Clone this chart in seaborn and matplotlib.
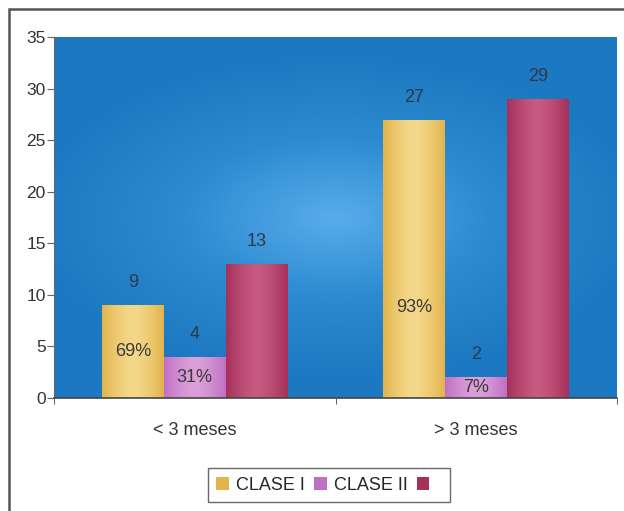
import numpy as np
import pandas as pd
import matplotlib
matplotlib.use("Agg")
import matplotlib.pyplot as plt
import seaborn as sns
from matplotlib.patches import Rectangle

# datos
grupos = ["< 3 meses", "> 3 meses"]
clases = ["CLASE I", "CLASE II", " "]
clase_1 = [9, 27]
clase_2 = [4, 2]
total = [13, 29]
porcentajes_1 = ["69%", "93%"]
porcentajes_2 = ["31%", "7%"]

df = pd.DataFrame({
    "grupo": grupos * 3,
    "clase": [c for c in clases for _ in grupos],
    "valor": clase_1 + clase_2 + total,
})

colores = ["#e2b44c", "#c070c4", "#a6305a"]
centros = ["#f4d88a", "#dca0d8", "#c65a80"]

sns.set_style("white")
plt.rcParams["font.family"] = ["Liberation Sans", "DejaVu Sans"]

fig = plt.figure(figsize=(6.24, 5.11), dpi=100)
ax = fig.add_axes([54 / 624, 1 - 398 / 511, 563 / 624, 361 / 511])

sns.barplot(data=df, x="grupo", y="valor", hue="clase", hue_order=clases,
            palette=colores, saturation=1, width=0.66, linewidth=0,
            ax=ax, legend=True, zorder=2)

# fondo azul con degradado
yy, xx = np.mgrid[-1:1:200j, -1:1:200j]
r = np.sqrt((xx * 0.9) ** 2 + (yy * 1.1) ** 2)
fondo = np.clip(r, 0, 1)
azul = matplotlib.colors.LinearSegmentedColormap.from_list("azul", ["#58aceb", "#2c8ad0", "#1c78c0"])
ax.imshow(fondo, cmap=azul, extent=(-0.5, 1.5, 0, 35), aspect="auto", zorder=0, vmin=0, vmax=1)

# degradado horizontal en cada barra
xg = np.linspace(-1, 1, 100)
grad = np.abs(xg)[None, :] ** 1.5
for i, c in enumerate(ax.containers):
    cm = matplotlib.colors.LinearSegmentedColormap.from_list("b", [centros[i], colores[i]])
    for patch in c:
        x0, w, h = patch.get_x(), patch.get_width(), patch.get_height()
        im = ax.imshow(grad, cmap=cm, extent=(x0, x0 + w, 0, h), aspect="auto", zorder=2.5, vmin=0, vmax=1)
        im.set_clip_path(patch)

ax.set_xlim(-0.5, 1.5)
ax.set_ylim(0, 35)
ax.set_yticks(range(0, 36, 5))
ax.set_xlabel("")
ax.set_ylabel("")

# etiquetas de valor
for c in ax.containers:
    ax.bar_label(c, padding=10, fontsize=13, color="#2e3a48")

# porcentajes dentro de las barras
for c, pcts in zip(ax.containers[:2], [porcentajes_1, porcentajes_2]):
    for bar, p in zip(c, pcts):
        y = min(bar.get_height() / 2, 8.8)
        ax.text(bar.get_x() + bar.get_width() / 2, y, p, ha="center", va="center",
                fontsize=13, color="#3a3a3a", zorder=4)

for s in ["top", "right"]:
    ax.spines[s].set_visible(False)
ax.spines["left"].set_color("#666666")
ax.spines["bottom"].set_color("#444444")
ax.spines["bottom"].set_linewidth(1.2)
ax.tick_params(axis="y", left=True, length=5, color="#666666", labelsize=12.5, labelcolor="#333333", pad=1)
ax.tick_params(axis="x", which="major", length=0, labelsize=13, labelcolor="#333333", pad=17)
ax.set_xticks([-0.5, 0.5, 1.5], minor=True)
ax.tick_params(axis="x", which="minor", bottom=True, length=4, color="#444444")

ax.get_legend().remove()
handles = [Rectangle((0, 0), 1, 1, fc=colores[i], ec="none") for i in range(3)]
fig.legend(handles, clases, loc="center", bbox_to_anchor=(329 / 624, 1 - 485 / 511), ncol=3,
           fontsize=13, frameon=True, fancybox=False, edgecolor="#444444",
           handlelength=0.7, handleheight=0.7, handletextpad=0.4, columnspacing=0.5,
           borderpad=0.45)

# marco exterior
fig.add_artist(Rectangle((9 / 624, -0.1), 2, 1.1 - 9 / 511, fill=False,
                         transform=fig.transFigure, lw=1.8, ec="#555555"))

fig.savefig("out.png", dpi=100)
